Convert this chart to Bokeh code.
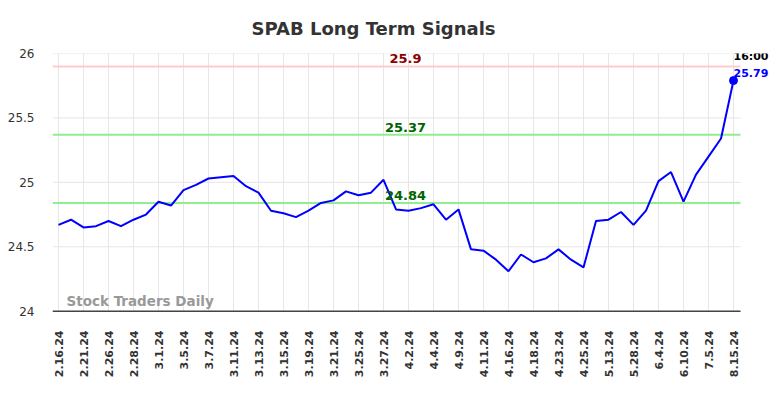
from bokeh.plotting import figure
from bokeh.models import (ColumnDataSource, FixedTicker, Label, Range1d)
from bokeh.embed import file_html
from bokeh.resources import INLINE

tick_labels = ["2.16.24", "2.21.24", "2.26.24", "2.28.24", "3.1.24", "3.5.24", "3.7.24",
               "3.11.24", "3.13.24", "3.15.24", "3.19.24", "3.21.24", "3.25.24", "3.27.24",
               "4.2.24", "4.4.24", "4.9.24", "4.11.24", "4.16.24", "4.18.24", "4.23.24",
               "4.25.24", "5.13.24", "5.28.24", "6.4.24", "6.10.24", "7.5.24", "8.15.24"]

prices = [24.67, 24.71, 24.65, 24.66, 24.70, 24.66, 24.71, 24.75, 24.85, 24.82,
          24.94, 24.98, 25.03, 25.04, 25.05, 24.97, 24.92, 24.78, 24.76, 24.73,
          24.78, 24.84, 24.86, 24.93, 24.90, 24.92, 25.02, 24.79, 24.78, 24.80,
          24.83, 24.71, 24.79, 24.48, 24.47, 24.40, 24.31, 24.44, 24.38, 24.41,
          24.48, 24.40, 24.34, 24.70, 24.71, 24.77, 24.67, 24.78, 25.01, 25.08,
          24.85, 25.06, 25.20, 25.34, 25.79]

y_ticks = [24, 24.5, 25, 25.5, 26]
y_tick_labels = ["24", "24.5", "25", "25.5", "26"]

levels = [25.9, 25.37, 24.84]
level_line_colors = ["#ffcccc", "#90ee90", "#90ee90"]
level_text_colors = ["#8b0000", "#006400", "#006400"]
last_time = "16:00"

idx = list(range(len(prices)))
tick_pos = list(range(0, len(prices), 2))
x_lo, x_hi = -0.48, 54.56

p = figure(width=784, height=398, output_backend="svg", toolbar_location=None,
           x_range=Range1d(x_lo, 58.08), y_range=Range1d(23.99, 26),
           min_border_left=52, min_border_right=0, min_border_top=53,
           min_border_bottom=86)
p.outline_line_color = None
p.background_fill_color = "white"

p.title.text = "SPAB Long Term Signals"
p.title.text_font = "DejaVu Sans"
p.title.text_font_size = "18px"
p.title.text_font_style = "bold"
p.title.text_color = "#333333"
p.title.align = "left"
p.title.offset = 199
p.title.standoff = 30

# axes
p.xaxis.ticker = FixedTicker(ticks=tick_pos)
p.xaxis.major_label_overrides = {t: l for t, l in zip(tick_pos, tick_labels)}
p.xaxis.major_label_orientation = 1.5708
p.xaxis.major_label_text_font = "DejaVu Sans"
p.xaxis.major_label_text_font_size = "11px"
p.xaxis.major_label_text_font_style = "bold"
p.xaxis.major_label_text_color = "#333333"
p.xaxis.major_tick_line_color = None
p.xaxis.minor_tick_line_color = None
p.xaxis.axis_line_color = None
p.xaxis.major_label_standoff = 12

p.yaxis.ticker = FixedTicker(ticks=y_ticks)
p.yaxis.major_label_overrides = dict(zip(y_ticks, y_tick_labels))
p.yaxis.major_label_text_font = "DejaVu Sans"
p.yaxis.major_label_text_font_size = "12px"
p.yaxis.major_label_text_color = "#333333"
p.yaxis.axis_line_color = None
p.yaxis.major_tick_line_color = None
p.yaxis.minor_tick_line_color = None
p.yaxis.major_label_standoff = 12

p.xgrid.grid_line_color = "#e6e6e6"
p.ygrid.grid_line_color = None

# horizontal grid lines limited to the plotting span
p.segment(x0=[x_lo] * len(y_ticks), x1=[x_hi] * len(y_ticks), y0=y_ticks, y1=y_ticks,
          line_color="#e6e6e6", line_width=1)
# x axis line
p.segment(x0=[x_lo], x1=[x_hi], y0=[24], y1=[24], line_color="#444444", line_width=1.5)

for lv, lc, tc in zip(levels, level_line_colors, level_text_colors):
    p.segment(x0=[x_lo], x1=[x_hi], y0=[lv], y1=[lv], line_color=lc, line_width=2)
    p.add_layout(Label(x=27.76, y=lv, text=str(lv), text_align="center",
                       text_baseline="bottom", y_offset=3, text_color=tc,
                       text_font="DejaVu Sans", text_font_size="13px",
                       text_font_style="bold"))

src = ColumnDataSource(dict(x=idx, y=prices))
p.line("x", "y", source=src, line_color="#0000ff", line_width=2)
p.scatter([idx[-1]], [prices[-1]], size=8, color="#0000ff")

p.add_layout(Label(x=idx[-1], y=prices[-1], text=last_time, text_align="left",
                   text_baseline="bottom", x_offset=0, y_offset=18,
                   text_color="#000000", text_font="DejaVu Sans",
                   text_font_size="11px", text_font_style="bold"))
p.add_layout(Label(x=idx[-1], y=prices[-1], text=f"{prices[-1]:.2f}", text_align="left",
                   text_baseline="bottom", x_offset=0, y_offset=4,
                   text_color="#0000ff", text_font="DejaVu Sans",
                   text_font_size="11px", text_font_style="bold"))

p.add_layout(Label(x=0.64, y=24.016, text="Stock Traders Daily", text_align="left",
                   text_baseline="bottom", text_color="#999999",
                   text_font="DejaVu Sans", text_font_size="13.5px",
                   text_font_style="bold"))

open("out.html", "w").write(file_html(p, INLINE))
